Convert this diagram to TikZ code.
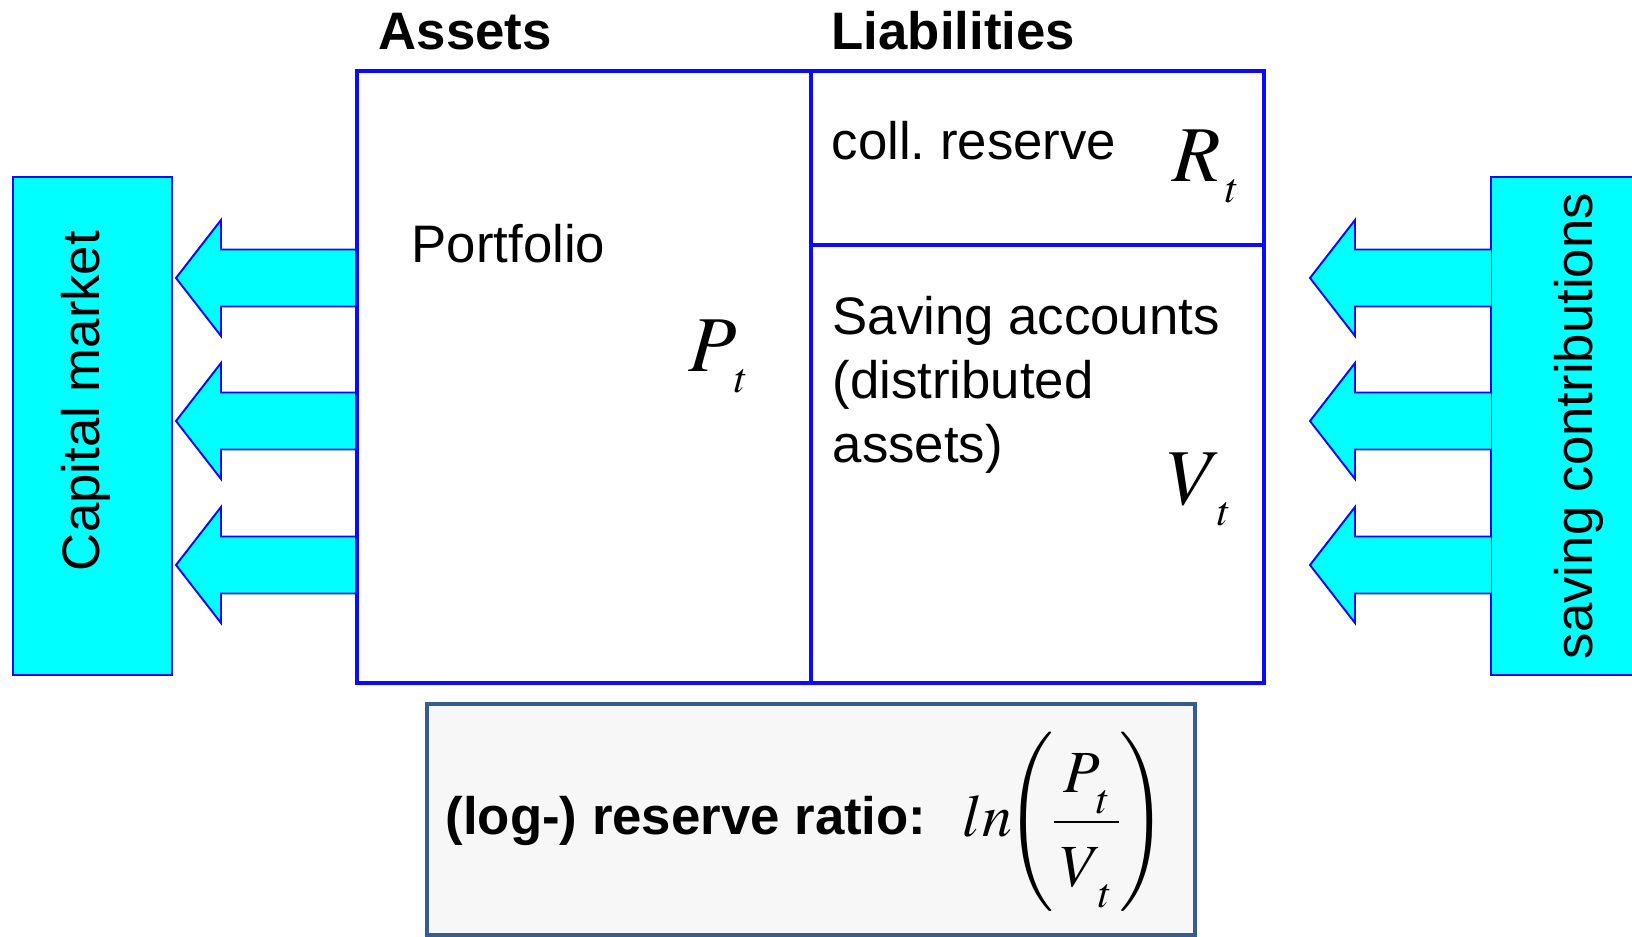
\documentclass[tikz,border=0pt]{standalone}
\usepackage{amsmath}
\usepackage{mathptmx}
\usepackage[no-math]{fontspec}
\setmainfont{Liberation Sans}
\usetikzlibrary{positioning}
\definecolor{flowcyan}{RGB}{0,255,255}
\definecolor{boxblue}{RGB}{10,10,255}
\definecolor{framesteel}{RGB}{56,93,138}
\definecolor{panelgray}{RGB}{247,247,247}
\frenchspacing

% Symbol mit tiefgestelltem t (Formeleditor-Stil)
\newcommand{\symsub}[2][0pt]{$#2$\kern#1\raisebox{-5.8pt}{\fontsize{12}{12}\selectfont$t$}}

\begin{document}
\begin{tikzpicture}[x=0.01cm, y=-0.01cm,
  txt/.style={inner sep=0pt, font=\fontsize{15}{18.1}\selectfont},
  boldtxt/.style={inner sep=0pt, font=\fontsize{15}{18.1}\selectfont\bfseries},
  symb/.style={inner sep=0pt, font=\fontsize{22.5}{22.5}\selectfont},
  mainline/.style={draw=boxblue, line width=0.9pt},
  sidebox/.style={fill=flowcyan, draw=boxblue, line width=0.55pt},
  blockarrow/.style={fill=flowcyan, draw=boxblue, line width=0.55pt, line join=miter}]
  \useasboundingbox (0,0) rectangle (1632,937);

  % Seitenkaesten
  \draw[sidebox] (13,177) rectangle (172,675);
  \draw[sidebox] (1491,177) rectangle (1650,675);
  \node[txt, rotate=90, anchor=base] (market) at (100,401) {Capital market};
  \node[txt, rotate=90, anchor=base] (contrib) at (1592,426) {saving contributions};

  % Blockpfeile
  \foreach \y in {278,421,565} {
    \filldraw[blockarrow] (357,\y-28.5) -- (221,\y-28.5) -- (221,\y-58) -- (176,\y)
      -- (221,\y+58) -- (221,\y+28.5) -- (357,\y+28.5);
    \filldraw[blockarrow] (1491,\y-28.5) -- (1355,\y-28.5) -- (1355,\y-58) -- (1310,\y)
      -- (1355,\y+58) -- (1355,\y+28.5) -- (1491,\y+28.5);
  }

  % Bilanz
  \fill[white] (357,71) rectangle (1264,683);
  \draw[mainline] (357,71) rectangle (1264,683);
  \draw[mainline] (811,71) -- (811,683);
  \draw[mainline] (811,245) -- (1264,245);

  \node[boldtxt, anchor=base west] (assets) at (378,50) {Assets};
  \node[boldtxt, anchor=base west] (liab) at (831,50) {Liabilities};
  \node[txt, anchor=base west] (portf) at (411,263) {Portfolio};
  \node[txt, anchor=base west] (reserve) at (831,160) {coll. reserve};
  \node[txt, anchor=north west, align=left] (accounts) at (832,296)
    {Saving accounts\\(distributed\\assets)};

  \node[symb, anchor=base west] (pt) at (688,372) {\symsub[-0.7pt]{P}};
  \node[symb, anchor=base west] (rt) at (1172,182) {\symsub[1.2pt]{R}};
  \node[symb, anchor=base west] (vt) at (1167,505) {\symsub[-1.3pt]{V}};

  % Kennzahl
  \draw[fill=panelgray, draw=framesteel, line width=1.1pt] (427,704) rectangle (1195,935);
  \node[boldtxt, anchor=base west] (ratio) at (445,835) {(log-) reserve ratio:};
  \node[inner sep=0pt, anchor=base west, font=\fontsize{17}{20}\selectfont] (lnfrac) at (962,837)
    {\nulldelimiterspace=0pt
     $ln\kern-3.5pt\left(\rule[-22pt]{0pt}{51pt}\dfrac{\mbox{\kern2pt\symsub[-1pt]{P}\kern2pt}}
       {\mbox{\raisebox{-2.5pt}{\kern2pt\symsub[-1pt]{V}\kern2pt}}}\right)$};
\end{tikzpicture}
\end{document}
